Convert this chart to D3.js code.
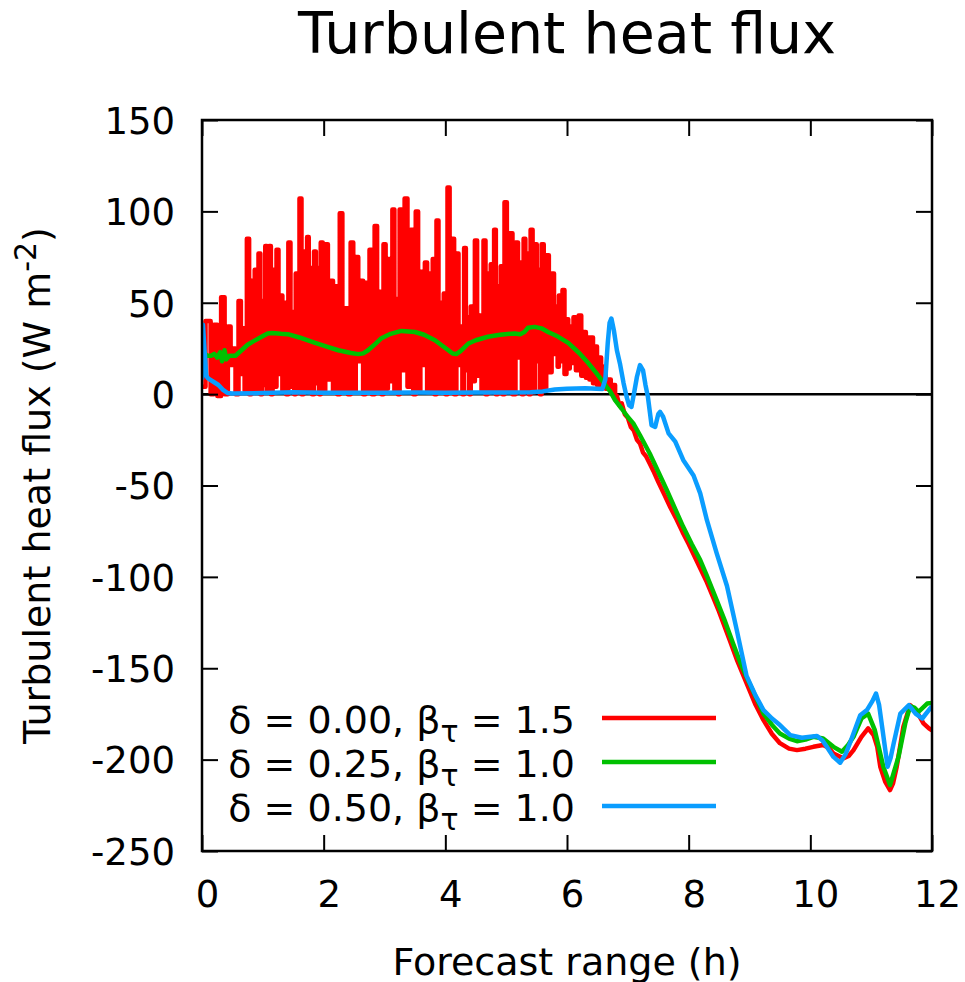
<!DOCTYPE html>
<html>
<head>
<meta charset="utf-8">
<script src="https://cdn.jsdelivr.net/npm/d3@7"></script>
<style>
  html, body { margin: 0; padding: 0; background: #fff; }
  svg { display: block; }
  text { font-family: "DejaVu Sans", sans-serif; fill: #000; }
</style>
</head>
<body>
<svg id="chart" width="965" height="982"></svg>
<script>
// ---------------- DATA ----------------
const xTicks = [0, 2, 4, 6, 8, 10, 12];
const yTicks = [-250, -200, -150, -100, -50, 0, 50, 100, 150];

const seriesNames = ["δ = 0.00, β", "δ = 0.25, β", "δ = 0.50, β"];
const seriesSubs = ["τ", "τ", "τ"];
const seriesTails = [" = 1.5", " = 1.0", " = 1.0"];
const seriesColors = ["#ff0000", "#00c000", "#0a9dff"];

// red: start point, then spikes [time h, peak, following trough], then smooth tail
const redStart = [[0, 4]];
const redSpikes = [
  [0.115,40,0],[0.222,38,-1],[0.345,53,0],[0.452,37,16],[0.526,25,0],[0.625,51,11],
  [0.682,36,2],[0.756,85,0],[0.830,62,3],[0.879,68,1],[0.945,77,0],[1.003,51,5],
  [1.052,81,1],[1.118,81,0],[1.175,68,4],[1.241,79,11],[1.307,54,2],[1.364,50,0],
  [1.438,83,4],[1.504,45,0],[1.553,66,1],[1.619,107,0],[1.685,78,3],[1.742,86,1],
  [1.792,69,0],[1.858,78,6],[1.915,69,0],[1.964,83,2],[2.047,82,8],[2.137,62,1],
  [2.203,59,0],[2.285,99,3],[2.375,47,0],[2.466,83,1],[2.548,75,18],[2.630,62,0],
  [2.704,61,2],[2.770,79,0],[2.860,92,1],[2.934,56,0],[3.000,82,3],[3.074,74,7],
  [3.148,101,2],[3.206,52,0],[3.263,101,13],[3.353,107,4],[3.452,90,0],[3.534,100,2],
  [3.608,67,16],[3.682,72,1],[3.756,66,3],[3.805,74,0],[3.871,95,2],[3.937,50,1],
  [3.986,55,0],[4.052,113,3],[4.126,85,0],[4.200,77,16],[4.266,37,0],[4.323,80,13],
  [4.381,42,0],[4.430,48,7],[4.504,84,10],[4.578,43,2],[4.644,84,0],[4.710,66,1],
  [4.759,71,3],[4.816,90,0],[4.874,59,1],[4.923,70,0],[4.989,105,2],[5.079,88,0],
  [5.178,83,20],[5.244,72,0],[5.301,85,2],[5.359,77,0],[5.416,90,1],[5.490,82,18],
  [5.540,68,0],[5.597,82,2],[5.679,76,12],[5.770,66,22],[5.836,48,15],[5.877,54,18],
  [5.942,57,11],[6.008,41,14],[6.058,37,17],[6.123,42,13],[6.214,43,10],[6.296,34,9],
  [6.353,31,8],[6.411,31,6],[6.477,26,5],[6.542,20,4],[6.617,15,3],[6.699,8,1],
  [6.781,5,-2]
];
const redTail = [
  [6.82,-1],[6.86,-6],[6.9,-5],[6.95,-11],[7.0,-13],[7.05,-18],[7.1,-20],[7.15,-25],
  [7.2,-27],[7.25,-32],[7.3,-34],[7.36,-38],[7.42,-42],[7.5,-48],[7.6,-55],[7.7,-62],
  [7.8,-68.5],[7.9,-75.5],[8.0,-82],[8.1,-89],[8.2,-96],[8.3,-103],[8.4,-111],[8.5,-119],
  [8.6,-128],[8.68,-135],[8.8,-146],[8.95,-158],[9.1,-170],[9.23,-178.4],[9.37,-186],
  [9.5,-191],[9.65,-194],[9.78,-194.8],[9.92,-194],[10.05,-193],[10.21,-192],[10.3,-193.5],
  [10.38,-196.6],[10.54,-199.3],[10.63,-198],[10.71,-194.8],[10.84,-187.5],[10.95,-182.9],
  [11.04,-186.6],[11.1,-193],[11.15,-203.9],[11.23,-212],[11.31,-216.7],[11.36,-213],
  [11.42,-203.9],[11.53,-182],[11.64,-170.2],[11.75,-173.8],[11.86,-180.2],[11.95,-182.9],
  [12,-184]
];

const greenSeries = [
  [0,30],[0.03,23],[0.08,21],[0.15,21],[0.2,22],[0.25,20],[0.3,23],[0.33,18],[0.37,24],
  [0.4,19],[0.45,21],[0.55,21],[0.65,24],[0.75,27],[0.85,29],[0.98,31.4],[1.08,33.2],
  [1.15,33.5],[1.3,33],[1.41,32.8],[1.6,31],[1.86,28],[2.05,26],[2.24,24],[2.45,22.5],
  [2.57,21.9],[2.65,22.3],[2.73,24],[2.85,27.5],[2.95,30.6],[3.1,33],[3.28,34.6],[3.5,34],
  [3.65,32.5],[3.83,29.5],[3.95,26.5],[4.05,24],[4.12,22.2],[4.18,21.9],[4.25,23.5],
  [4.38,27.7],[4.5,29.5],[4.7,31.4],[4.9,32.5],[5.14,33.2],[5.23,32.8],[5.3,34],[5.36,36.3],
  [5.47,36.8],[5.58,36],[5.69,34],[5.85,31.5],[6.02,28],[6.2,22.5],[6.35,17],[6.47,12],
  [6.57,7.7],[6.65,4],[6.71,1.5],[6.79,-3.3],[6.9,-8],[7.0,-12.5],[7.09,-16],[7.2,-22.5],
  [7.36,-32.5],[7.5,-42.5],[7.64,-52.5],[7.78,-63],[7.91,-72.6],[8.05,-82],[8.19,-90.8],
  [8.3,-99.5],[8.46,-112.7],[8.6,-124.5],[8.73,-136.4],[8.85,-147],[8.95,-154.7],[9.1,-165.5],
  [9.23,-174.8],[9.37,-181],[9.5,-185.7],[9.65,-188.5],[9.78,-189.9],[9.92,-189],[10.05,-187.5],
  [10.21,-188.4],[10.38,-193],[10.52,-195.7],[10.62,-192],[10.71,-187.5],[10.84,-177.5],
  [10.95,-174.8],[11.06,-183.9],[11.2,-203.9],[11.31,-213.9],[11.45,-198.4],[11.56,-180.2],
  [11.64,-170.8],[11.71,-171.5],[11.78,-173.8],[11.92,-169.3],[12,-169]
];

const blueSeries = [
  [0,8],[0.015,38],[0.04,25],[0.07,10],[0.1,8.6],[0.2,6.5],[0.27,5],[0.34,2.5],[0.42,0.6],
  [0.5,0.3],[1.0,0.6],[1.5,1],[2.0,0.8],[2.5,0.7],[3.0,0.8],[3.5,0.9],[4.0,0.8],[4.5,0.9],
  [5.0,0.9],[5.4,1.0],[5.6,1.5],[5.8,2.5],[6.0,3],[6.3,3.2],[6.58,2.8],[6.63,8],[6.67,28],
  [6.7,39],[6.73,41.4],[6.77,35],[6.82,24],[6.87,16.8],[6.93,6],[6.98,-1.5],[7.02,-6],
  [7.06,-7],[7.11,2],[7.15,9.5],[7.2,15.9],[7.25,13],[7.29,5],[7.33,-1.5],[7.39,-17],
  [7.45,-17.9],[7.5,-11],[7.53,-9.7],[7.58,-12.4],[7.67,-21.5],[7.78,-26],[7.91,-36],
  [8.08,-44.5],[8.19,-54.3],[8.3,-69],[8.46,-87],[8.63,-105],[8.79,-129],[8.95,-154],
  [9.1,-165],[9.23,-172.9],[9.37,-177.5],[9.5,-181.1],[9.67,-186.6],[9.86,-188],[10.0,-187.5],
  [10.11,-187.1],[10.2,-189.5],[10.27,-193],[10.38,-198.5],[10.49,-201.7],[10.58,-197],
  [10.66,-190.2],[10.75,-182],[10.82,-175.7],[10.93,-172.9],[11.02,-168],[11.08,-163.8],
  [11.13,-170],[11.18,-182],[11.27,-203.9],[11.32,-199],[11.37,-191.1],[11.48,-174.8],
  [11.62,-170.2],[11.73,-174.8],[11.84,-177.5],[11.97,-172],[12,-171]
];

// ---------------- BUILD ----------------
// noisy part of red drawn as steps (bar-like spikes), smooth tail drawn linearly
const redNoisy = redStart.slice();
redSpikes.forEach((s, i) => {
  redNoisy.push([s[0], s[1]]);
  const tn = i < redSpikes.length - 1 ? redSpikes[i + 1][0] : redTail[0][0];
  redNoisy.push([(s[0] + tn) / 2, s[2]]);
});
const redSmooth = [redNoisy[redNoisy.length - 1]].concat(redTail);

const L = 202, R = 932, T = 120, B = 851;
const x = d3.scaleLinear().domain([0, 12]).range([L, R]);
const y = d3.scaleLinear().domain([-250, 150]).range([B, T]);

const svg = d3.select("#chart");
const FS = 37;

svg.append("defs").append("clipPath").attr("id", "plotclip")
  .append("rect").attr("x", L).attr("y", T).attr("width", R - L).attr("height", B - T);

// title
svg.append("text").attr("x", (L + R) / 2).attr("y", 53)
  .attr("text-anchor", "middle").style("font-size", "57px").text("Turbulent heat flux");

// zero line
svg.append("line").attr("x1", L).attr("x2", R).attr("y1", y(0)).attr("y2", y(0))
  .attr("stroke", "#000").attr("stroke-width", 2.5);

// data lines
const lineLin = d3.line().x(d => x(d[0])).y(d => y(d[1]));
const lineStep = d3.line().x(d => x(d[0])).y(d => y(d[1])).curve(d3.curveStep);
const gData = svg.append("g").attr("clip-path", "url(#plotclip)");
const drawn = [
  [redNoisy, lineStep, 0], [redSmooth, lineLin, 0],
  [greenSeries, lineLin, 1], [blueSeries, lineLin, 2]
];
drawn.forEach(([s, gen, ci]) => {
  gData.append("path").datum(s).attr("d", gen)
    .attr("fill", "none").attr("stroke", seriesColors[ci])
    .attr("stroke-width", 4.5).attr("stroke-linejoin", "round");
});

// axes
const TL = 16;
const fmt = d => String(d);
const gx = svg.append("g").attr("transform", `translate(0,${B})`)
  .call(d3.axisBottom(x).tickValues(xTicks).tickSize(-TL).tickPadding(30).tickFormat(fmt));
gx.selectAll("text").attr("dx", 5).style("font-size", FS + "px");
const gy = svg.append("g").attr("transform", `translate(${L},0)`)
  .call(d3.axisLeft(y).tickValues(yTicks).tickSize(-TL).tickPadding(27).tickFormat(fmt));
gy.selectAll("text").attr("dy", "0.36em").style("font-size", FS + "px");
const gx2 = svg.append("g").attr("transform", `translate(0,${T})`)
  .call(d3.axisTop(x).tickValues(xTicks).tickSize(-TL).tickFormat(""));
const gy2 = svg.append("g").attr("transform", `translate(${R},0)`)
  .call(d3.axisRight(y).tickValues(yTicks).tickSize(-TL).tickFormat(""));
[gx, gy, gx2, gy2].forEach(g => {
  g.select(".domain").remove();
  g.selectAll(".tick line").attr("stroke", "#000").attr("stroke-width", 2);
  g.selectAll("text").style("font-family", "'DejaVu Sans', sans-serif").attr("fill", "#000");
});

// frame
svg.append("rect").attr("x", L).attr("y", T).attr("width", R - L).attr("height", B - T)
  .attr("fill", "none").attr("stroke", "#000").attr("stroke-width", 2.5);

// axis titles
svg.append("text").attr("x", (L + R) / 2).attr("y", 975)
  .attr("text-anchor", "middle").style("font-size", "38px").text("Forecast range (h)");

const yt = svg.append("text")
  .attr("transform", `translate(50,${(T + B) / 2}) rotate(-90)`)
  .attr("text-anchor", "middle").style("font-size", "38px");
yt.append("tspan").text("Turbulent heat flux (W m");
yt.append("tspan").attr("dy", -14).style("font-size", "30px").text("-2");
yt.append("tspan").attr("dy", 14).text(")");

// legend
const legY = [718, 762, 806];
seriesNames.forEach((n, i) => {
  const t = svg.append("text").attr("x", 575).attr("y", legY[i] + 15)
    .attr("text-anchor", "end").style("font-size", "38px");
  t.append("tspan").text(n);
  t.append("tspan").attr("dy", 9).style("font-size", "30px").text(seriesSubs[i]);
  t.append("tspan").attr("dy", -9).text(seriesTails[i]);
  svg.append("line").attr("x1", 602).attr("x2", 716).attr("y1", legY[i]).attr("y2", legY[i])
    .attr("stroke", seriesColors[i]).attr("stroke-width", 4.5);
});
</script>
</body>
</html>
